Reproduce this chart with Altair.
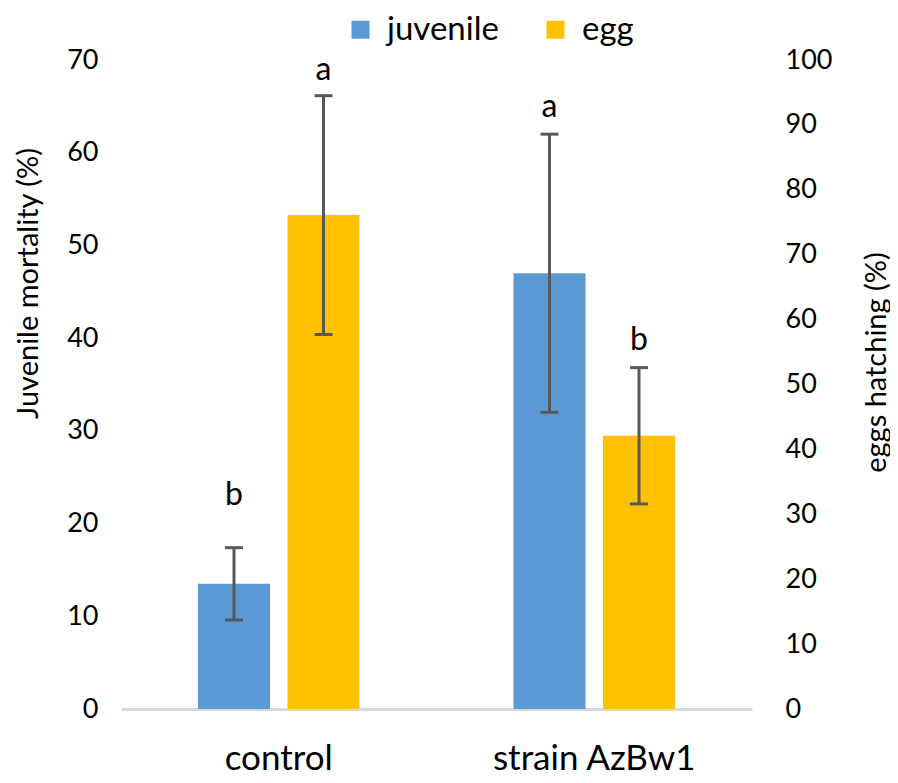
import altair as alt
import pandas as pd

groups = ["control", "strain AzBw1"]
series = ["juvenile", "egg"]
colors = ["#5B9BD5", "#FFC000"]

juvenile = [13.5, 47.0]
juvenile_err = [3.9, 15.0]
juvenile_letters = ["b", "a"]
juvenile_label_at = [23.1, 64.9]

egg = [76.1, 42.1]
egg_err = [18.4, 10.5]
egg_letters = ["a", "b"]
egg_label_at = [98.5, 56.9]

left_ticks = list(range(0, 71, 10))
right_ticks = list(range(0, 101, 10))

FONT = "Lato"
ERR = "#595959"


def frame(name, vals, errs, letters, label_at):
    return pd.DataFrame({
        "group": groups,
        "series": [name] * len(groups),
        "value": vals,
        "lo": [v - e for v, e in zip(vals, errs)],
        "hi": [v + e for v, e in zip(vals, errs)],
        "letter": letters,
        "label_at": label_at,
    })


df_j = frame("juvenile", juvenile, juvenile_err, juvenile_letters, juvenile_label_at)
df_e = frame("egg", egg, egg_err, egg_letters, egg_label_at)

x_enc = alt.X(
    "group:N",
    sort=groups,
    scale=alt.Scale(domain=groups, paddingInner=0, paddingOuter=0),
    axis=alt.Axis(
        title=None, labelAngle=0, ticks=False, domainColor="#D9D9D9",
        domainWidth=3, labelFontSize=35, labelFont=FONT, labelColor="#000000",
        labelPadding=32, labelLimit=0,
    ),
)
xo_enc = alt.XOffset(
    "series:N",
    scale=alt.Scale(domain=series, paddingInner=0.1955, paddingOuter=0.86),
)

legend = alt.Legend(
    orient="none", legendX=223, legendY=-47, direction="horizontal", title=None,
    symbolType="square", symbolSize=324, symbolStrokeWidth=0,
    labelFontSize=33, labelFont=FONT, labelColor="#000000", labelLimit=0,
    columnPadding=40, labelOffset=10, padding=0,
)
color_enc = alt.Color(
    "series:N", scale=alt.Scale(domain=series, range=colors), legend=legend
)


def layer_for(df, domain, ticks, title, orient, title_x, title_y, label_pad, label_align):
    base = alt.Chart(df).encode(x=x_enc, xOffset=xo_enc)
    sc = alt.Scale(domain=domain, nice=False, zero=True)
    axis = alt.Axis(
        orient=orient, values=ticks, title=title, grid=False, ticks=False,
        domain=False, labelFontSize=27, labelFont=FONT, labelColor="#000000",
        labelPadding=label_pad, labelAlign=label_align,
        titleFontSize=29, titleFont=FONT, titleFontWeight="normal",
        titleColor="#000000", titleAngle=270, titleX=title_x, titleY=title_y,
        titleAlign="center", titleBaseline="middle", titleLimit=0,
    )
    bars = base.mark_bar().encode(
        y=alt.Y("value:Q", scale=sc, axis=axis, title=title), color=color_enc
    )
    rule = base.mark_rule(color=ERR, strokeWidth=3).encode(
        y=alt.Y("lo:Q", scale=sc, axis=axis, title=title), y2="hi:Q"
    )
    cap_lo = base.mark_tick(color=ERR, thickness=3, size=18, opacity=1).encode(
        y=alt.Y("lo:Q", scale=sc, axis=axis, title=title)
    )
    cap_hi = base.mark_tick(color=ERR, thickness=3, size=18, opacity=1).encode(
        y=alt.Y("hi:Q", scale=sc, axis=axis, title=title)
    )
    text = base.mark_text(
        fontSize=32, font=FONT, color="#000000", baseline="middle", align="center"
    ).encode(
        y=alt.Y("label_at:Q", scale=sc, axis=axis, title=title), text="letter:N"
    )
    return alt.layer(bars, rule, cap_lo, cap_hi, text)


left = layer_for(df_j, [0, 70], left_ticks, "Juvenile mortality (%)", "left",
                 -93, 223, 23, "right")
right = layer_for(df_e, [0, 100], right_ticks, "eggs hatching (%)", "right",
                  124, 302, 33, "left")

chart = (
    alt.layer(left, right)
    .resolve_scale(y="independent")
    .properties(
        width=631, height=649,
        autosize=alt.AutoSizeParams(type="none"),
        padding={"left": 113, "top": 52, "right": 138, "bottom": 66},
    )
    .configure_view(strokeWidth=0)
)

chart.save("out.html", embed_options={"renderer": "svg", "actions": False})
